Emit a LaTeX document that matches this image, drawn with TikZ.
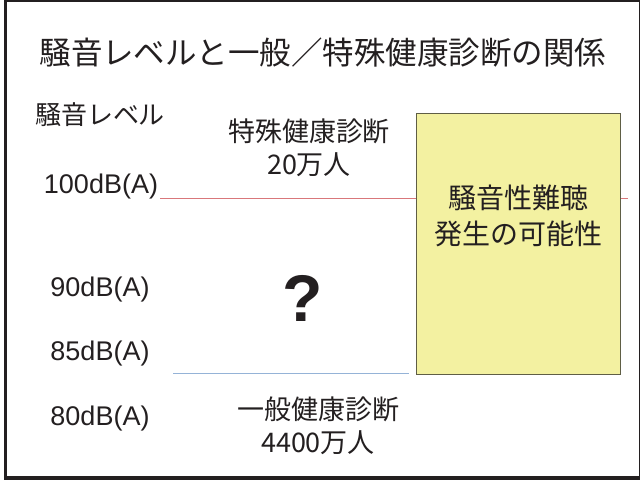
\documentclass[tikz,border=0pt]{standalone}
\usepackage{fontspec}
\setmainfont{Liberation Sans}
\newfontfamily\jpfont{Noto Sans CJK JP}
\usetikzlibrary{positioning}
\definecolor{boxyellow}{HTML}{F3F1A1}
\definecolor{boxedge}{HTML}{5F5E45}
\definecolor{limitred}{HTML}{D9777B}
\definecolor{limitblue}{HTML}{95B3D7}
\definecolor{inkdark}{HTML}{231F20}
\tikzset{
  title/.style={font=\jpfont\fontsize{31.5}{36}\selectfont, text=inkdark},
  level/.style={font=\fontsize{27}{30}\selectfont, text=inkdark, inner sep=0pt},
  exam/.style={font=\jpfont\fontsize{27}{33}\selectfont, text=inkdark, align=center, inner sep=0pt},
  risk/.style={rectangle, draw=boxedge, fill=boxyellow, line width=0.8pt,
    minimum width=204pt, minimum height=261pt},
  limit/.style={line width=1pt},
}
\begin{document}
\begin{tikzpicture}[x=1pt, y=-1pt]
  \useasboundingbox (0,0) rectangle (641,480);
  % frame
  \draw[inkdark, line width=1.2pt] (5,1) rectangle (639.5,477);
  \draw[inkdark, line width=3pt] (5,0) -- (5,478) -- (640,478);
  % title
  \node[title] (ttl) at (323,53) {騒音レベルと一般／特殊健康診断の関係};
  % level axis
  \node[exam, font=\jpfont\fontsize{26}{30}\selectfont] (axis) at (100,115) {騒音レベル};
  \node[level] (l100) at (101,187) {100dB(A)};
  \node[level] (l90) at (100,290) {90dB(A)};
  \node[level] (l85) at (100,354) {85dB(A)};
  \node[level] (l80) at (100,419) {80dB(A)};
  % limit lines (behind the box)
  \coordinate (redend) at (628,198);
  \coordinate (bluestart) at (173,373);
  \draw[limit, limitred] (160,198) -- (redend);
  \draw[limit, limitblue] (bluestart) -- (409,373) coordinate (blueend);
  % hearing-loss box
  \node[risk] (hl) at (518,243.5) {};
  \node[exam, font=\jpfont\fontsize{28}{36}\selectfont] (hltxt) at (518,216)
    {騒音性難聴\\発生の可能性};
  % exams
  \node[exam] (special) at (309,148) {特殊健康診断\\20万人};
  \node[font=\bfseries\fontsize{66}{66}\selectfont, text=inkdark] (q) at (303,298) {?};
  \node[exam] (general) at (318,426) {一般健康診断\\4400万人};
\end{tikzpicture}
\end{document}
